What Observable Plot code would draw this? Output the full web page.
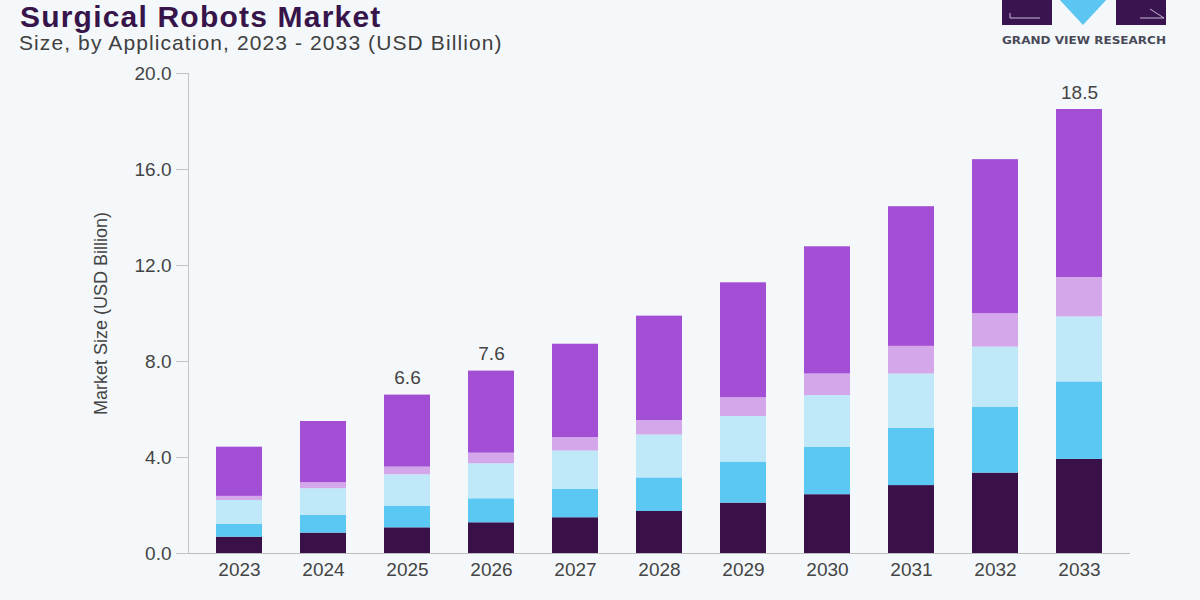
<!DOCTYPE html>
<html>
<head>
<meta charset="utf-8">
<script src="https://cdn.jsdelivr.net/npm/d3@7"></script>
<script src="https://cdn.jsdelivr.net/npm/@observablehq/plot@0.6"></script>
<style>
  html, body { margin: 0; padding: 0; background: #f4f8fb; }
  #wrap { position: relative; width: 1200px; height: 600px; overflow: hidden; background: #f4f8fb; }
  #title { position: absolute; left: 20px; top: 2px; line-height: 30px; font-family: "Liberation Sans", Arial, sans-serif;
           font-weight: 700; font-size: 30px; color: #371449; letter-spacing: 1.2px; white-space: nowrap; }
  #subtitle { position: absolute; left: 19px; top: 31px; font-family: "Liberation Sans", Arial, sans-serif;
              font-size: 21px; color: #404040; letter-spacing: 1.1px; white-space: nowrap; }
  #logo { position: absolute; left: 1000px; top: 0; }
  #chart { position: absolute; left: 0; top: 0; }
  #chart g[aria-label="y-axis tick"] { stroke: #c4c4c4; }
  #chart g[aria-label="y-axis label"] { font-size: 18px; }
</style>
</head>
<body>
<div id="wrap">
  <div id="chart"></div>
  <div id="title">Surgical Robots Market</div>
  <div id="subtitle">Size, by Application, 2023 - 2033 (USD Billion)</div>
  <svg id="logo" width="170" height="48" viewBox="0 0 170 48">
    <rect x="2" y="-2" width="50" height="27" fill="#3a1450"/>
    <path d="M10 18 L10 13 M10 18 L40 18" stroke="#e8dff0" stroke-width="0.8" fill="none"/>
    <polygon points="58,-2 108,-2 83,25" fill="#5cc6f2"/>
    <rect x="116" y="-2" width="50" height="27" fill="#3a1450"/>
    <path d="M150 9 L164 18 M140 18 L164 18" stroke="#e8dff0" stroke-width="0.8" fill="none"/>
    <text x="2" y="44" textLength="164" lengthAdjust="spacingAndGlyphs"
          font-family="DejaVu Sans, Arial, sans-serif" font-weight="700" font-size="10.5" fill="#4a4a58">GRAND VIEW RESEARCH</text>
  </svg>
</div>
<script>
// Surgical robots market size by application, USD billion (stacked bottom to top)
const years = ["2023", "2024", "2025", "2026", "2027", "2028", "2029", "2030", "2031", "2032", "2033"];
const seriesNames = ["Orthopedics", "Neurology", "Urology", "Gynecology", "Others"];
const orthopedics = [0.68, 0.85, 1.07, 1.28, 1.49, 1.75, 2.10, 2.45, 2.83, 3.35, 3.92];
const neurology   = [0.53, 0.74, 0.89, 1.00, 1.18, 1.40, 1.71, 1.98, 2.39, 2.75, 3.23];
const urology     = [1.00, 1.11, 1.32, 1.46, 1.60, 1.79, 1.90, 2.15, 2.26, 2.50, 2.71];
const gynecology  = [0.17, 0.25, 0.32, 0.44, 0.56, 0.60, 0.78, 0.90, 1.15, 1.39, 1.64];
const others      = [2.05, 2.55, 3.00, 3.42, 3.89, 4.35, 4.79, 5.30, 5.82, 6.42, 7.00];
const seriesColors = ["#3a1049", "#5bc8f4", "#bfe8f9", "#d4a6ea", "#a34fd5"];
const yTicks = [0, 4, 8, 12, 16, 20];
const labeledYears = ["2025", "2026", "2033"];

const seriesValues = [orthopedics, neurology, urology, gynecology, others];
const rows = [];
seriesNames.forEach((name, i) => {
  years.forEach((year, j) => rows.push({year, series: name, value: seriesValues[i][j]}));
});
const totals = years.map((year, j) => ({year, total: d3.sum(seriesValues, s => s[j])}));
const labelRows = totals.filter(d => labeledYears.includes(d.year));

const chart = Plot.plot({
  width: 1200,
  height: 600,
  marginTop: 73,
  marginBottom: 47,
  marginLeft: 188,
  marginRight: 70,
  style: {
    background: "transparent",
    fontFamily: "Liberation Sans, Arial, sans-serif",
    fontSize: "19px",
    color: "#444"
  },
  x: {
    domain: years,
    paddingInner: 0.4575,
    paddingOuter: 0.283,
    tickSize: 0,
    tickPadding: 9,
    label: null
  },
  y: {
    domain: [0, 20],
    ticks: yTicks,
    tickFormat: d3.format(".1f"),
    tickSize: 12,
    tickPadding: 5,
    label: "Market Size (USD Billion)",
    labelAnchor: "center",
    labelArrow: "none",
    labelOffset: 94
  },
  color: {domain: seriesNames, range: seriesColors},
  marks: [
    Plot.barY(rows, {x: "year", y: "value", fill: "series", order: seriesNames}),
    Plot.frame({anchor: "left", stroke: "#c4c4c4"}),
    Plot.ruleY([0], {stroke: "#bdbdbd", strokeWidth: 1.2}),
    Plot.text(labelRows, {
      x: "year",
      y: "total",
      text: d => d3.format(".1f")(d.total),
      dy: -17,
      fontSize: 19,
      fill: "#444"
    })
  ]
});
document.getElementById("chart").appendChild(chart);
</script>
</body>
</html>
